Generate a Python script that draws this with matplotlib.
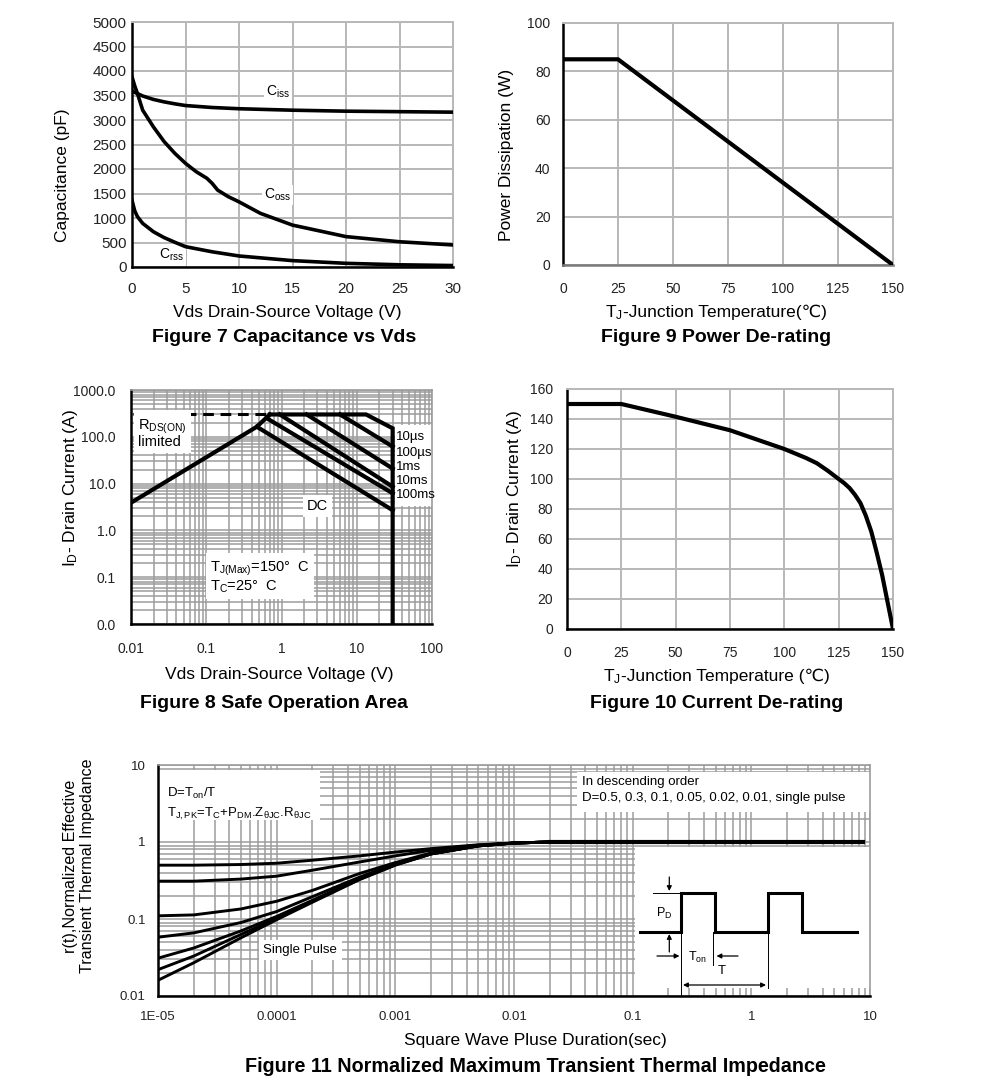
import matplotlib
matplotlib.use('Agg')
import matplotlib.pyplot as plt
from matplotlib.patches import Rectangle
from matplotlib.ticker import FixedLocator, FixedFormatter, LogLocator, NullFormatter

plt.rcParams['font.family'] = ['Liberation Sans', 'DejaVu Sans']
plt.rcParams['mathtext.fontset'] = 'custom'
plt.rcParams['mathtext.rm'] = 'Liberation Sans'
plt.rcParams['mathtext.it'] = 'Liberation Sans:italic'
plt.rcParams['mathtext.bf'] = 'Liberation Sans:bold'

# ---------------- data ----------------
# Figure 7
ciss_v = [0, 0.5, 1, 2, 3, 4, 5, 7.5, 10, 15, 20, 25, 30]
ciss_c = [3590, 3540, 3490, 3420, 3370, 3330, 3295, 3255, 3230, 3200, 3180, 3170, 3160]
coss_v = [0, 0.25, 0.5, 1, 2, 3, 4, 5, 6, 7, 7.5, 8, 9, 10, 12, 15, 20, 25, 30]
coss_c = [3880, 3700, 3545, 3200, 2860, 2560, 2320, 2115, 1945, 1810, 1705, 1570, 1435, 1330, 1095, 855, 620, 515, 450]
crss_v = [0, 0.25, 0.5, 1, 2, 3, 4, 5, 7.5, 10, 15, 20, 25, 30]
crss_c = [1360, 1150, 1030, 890, 720, 600, 505, 415, 310, 225, 130, 75, 45, 30]
cap_xticks = [0, 5, 10, 15, 20, 25, 30]
cap_yticks = [0, 500, 1000, 1500, 2000, 2500, 3000, 3500, 4000, 4500, 5000]

# Figure 9
pd_tj = [0, 25, 150]
pd_w = [85, 85, 0]
pd_xticks = [0, 25, 50, 75, 100, 125, 150]
pd_yticks = [0, 20, 40, 60, 80, 100]

# Figure 10
id_tj = [0, 25, 50, 75, 100, 105, 110, 115, 120, 125, 127.5, 130, 132.5, 135, 137.5, 140, 142.5, 145, 147.5, 150]
id_a = [150, 150, 141.5, 132.5, 120, 117, 114, 110.5, 105.5, 100, 97.3, 94, 89.5, 84, 75.5, 65, 51, 36, 18, 0]
id_xticks = [0, 25, 50, 75, 100, 125, 150]
id_yticks = [0, 20, 40, 60, 80, 100, 120, 140, 160]

# Figure 8 (SOA)
rds_v = [0.0105, 0.7]
rds_i = [300, 300]
rise_v = [0.01, 0.47, 0.7]
rise_i = [3.9, 164, 300]
us10_v = [0.7, 13.3, 30, 30]
us10_i = [300, 300, 152, 0.01]
us100_v = [6, 30]
us100_i = [300, 62]
ms1_v = [2.16, 30]
ms1_i = [300, 21]
ms10_v = [0.95, 30]
ms10_i = [300, 8.6]
ms100_v = [0.64, 30]
ms100_i = [248, 6.2]
dc_v = [0.47, 30]
dc_i = [164, 2.7]
soa_xticks = [0.01, 0.1, 1, 10, 100]
soa_xlabels = ['0.01', '0.1', '1', '10', '100']
soa_yticks = [0.01, 0.1, 1, 10, 100, 1000]
soa_ylabels = ['0.0', '0.1', '1.0', '10.0', '100.0', '1000.0']
soa_curve_names = ['10µs', '100µs', '1ms', '10ms', '100ms']

# Figure 11
zth_t = [1e-5, 2e-5, 5e-5, 1e-4, 2e-4, 5e-4, 1e-3, 2e-3, 5e-3, 1e-2, 2e-2]
zth_d05 = [0.50, 0.50, 0.51, 0.53, 0.58, 0.66, 0.74, 0.82, 0.92, 0.97, 1.0]
zth_d03 = [0.31, 0.31, 0.33, 0.36, 0.43, 0.55, 0.66, 0.78, 0.91, 0.97, 1.0]
zth_d01 = [0.11, 0.113, 0.135, 0.17, 0.235, 0.39, 0.54, 0.72, 0.90, 0.97, 1.0]
zth_d005 = [0.058, 0.066, 0.09, 0.125, 0.195, 0.35, 0.52, 0.71, 0.89, 0.97, 1.0]
zth_d002 = [0.031, 0.042, 0.07, 0.108, 0.175, 0.335, 0.51, 0.70, 0.89, 0.97, 1.0]
zth_d001 = [0.022, 0.033, 0.063, 0.102, 0.17, 0.33, 0.505, 0.70, 0.89, 0.97, 1.0]
zth_single = [0.016, 0.027, 0.057, 0.098, 0.165, 0.325, 0.50, 0.70, 0.89, 0.97, 1.0]
zth_flat_t = [0.02, 8.7]
zth_flat_r = [1.0, 1.0]
zth_xticks = [1e-5, 1e-4, 1e-3, 1e-2, 1e-1, 1, 10]
zth_xlabels = ['1E-05', '0.0001', '0.001', '0.01', '0.1', '1', '10']
zth_yticks = [0.01, 0.1, 1, 10]
zth_ylabels = ['0.01', '0.1', '1', '10']

# ---------------- layout helpers ----------------
W, H = 991, 1090
fig = plt.figure(figsize=(W / 100, H / 100), dpi=100)


def px_axes(l, t, r, b):
    return fig.add_axes([l / W, 1 - b / H, (r - l) / W, (b - t) / H])


def ftext(x, y, s, **kw):
    fig.text(x / W, 1 - y / H, s, ha=kw.pop('ha', 'center'), va=kw.pop('va', 'center'), **kw)


GRID = '#b8b8b8'
LGRID = '#9c9c9c'


def lin_style(ax, xt, yt, xpad, ypad, fs, bottom_col='k'):
    ax.set_xticks(xt)
    ax.set_yticks(yt)
    ax.grid(True, color=GRID, lw=1.4)
    ax.set_axisbelow(True)
    ax.tick_params(length=0, labelsize=fs, colors='#222222')
    ax.tick_params(axis='x', pad=xpad)
    ax.tick_params(axis='y', pad=ypad)
    for s in ['top', 'right']:
        ax.spines[s].set_color(GRID)
        ax.spines[s].set_linewidth(1.4)
    ax.spines['left'].set_color('k')
    ax.spines['left'].set_linewidth(1.8)
    ax.spines['bottom'].set_color(bottom_col)
    ax.spines['bottom'].set_linewidth(1.8)


LW = 3.0
TITLE_FS = 14
LABEL_FS = 12.5

# ---------------- Figure 7 ----------------
ax7 = px_axes(132, 22, 453, 267)
ax7.plot(ciss_v, ciss_c, color='k', lw=2.6, zorder=3)
ax7.plot(coss_v, coss_c, color='k', lw=2.6, zorder=3)
ax7.plot(crss_v, crss_c, color='k', lw=2.6, zorder=3)
ax7.set_xlim(0, 30)
ax7.set_ylim(0, 5000)
lin_style(ax7, cap_xticks, cap_yticks, 11, 4, 11)
bb = dict(facecolor='white', edgecolor='none', pad=1.5)
ax7.text(13.6, 3580, r'C$_{\mathrm{iss}}$', fontsize=10, ha='center', va='center', bbox=bb, zorder=2.5)
ax7.text(13.6, 1470, r'C$_{\mathrm{oss}}$', fontsize=10, ha='center', va='center', bbox=bb, zorder=2.5)
ax7.text(3.7, 240, r'C$_{\mathrm{rss}}$', fontsize=10, ha='center', va='center', bbox=bb, zorder=2.5)
ftext(63, 175, 'Capacitance (pF)', rotation=90, fontsize=LABEL_FS)
ftext(287, 312, 'Vds Drain-Source Voltage (V)', fontsize=LABEL_FS)
ftext(284, 338, 'Figure 7 Capacitance vs Vds', fontsize=TITLE_FS, fontweight='bold')

# ---------------- Figure 9 ----------------
ax9 = px_axes(563, 23, 893, 265)
ax9.plot(pd_tj, pd_w, color='k', lw=LW, zorder=3, solid_joinstyle='miter')
ax9.set_xlim(0, 150)
ax9.set_ylim(0, 100)
lin_style(ax9, pd_xticks, pd_yticks, 12, 9, 10, bottom_col='#7a7a7a')
ftext(506, 155, 'Power Dissipation (W)', rotation=90, fontsize=LABEL_FS)
ftext(623, 317, r'T$_{\mathrm{J}}$', fontsize=LABEL_FS, ha='right', va='baseline')
ftext(623, 317, '-Junction Temperature(℃)', fontsize=LABEL_FS, ha='left', va='baseline')
ftext(716, 338, 'Figure 9 Power De-rating', fontsize=TITLE_FS, fontweight='bold')

# ---------------- Figure 10 ----------------
ax10 = px_axes(567, 389, 893, 629)
ax10.plot(id_tj, id_a, color='k', lw=LW, zorder=3)
ax10.set_xlim(0, 150)
ax10.set_ylim(0, 160)
lin_style(ax10, id_xticks, id_yticks, 12, 10, 10)
ftext(515, 489, r'I$_{\mathrm{D}}$- Drain Current (A)', rotation=90, fontsize=LABEL_FS)
ftext(621, 681, r'T$_{\mathrm{J}}$', fontsize=LABEL_FS, ha='right', va='baseline')
ftext(621, 681, '-Junction Temperature (℃)', fontsize=LABEL_FS, ha='left', va='baseline')
ftext(717, 703, 'Figure 10 Current De-rating', fontsize=TITLE_FS, fontweight='bold')


def log_style(ax, fs, xpad, ypad):
    ax.set_xscale('log')
    ax.set_yscale('log')
    ax.xaxis.set_minor_locator(LogLocator(base=10, subs=range(2, 10), numticks=20))
    ax.yaxis.set_minor_locator(LogLocator(base=10, subs=range(2, 10), numticks=20))
    ax.xaxis.set_minor_formatter(NullFormatter())
    ax.yaxis.set_minor_formatter(NullFormatter())
    ax.grid(True, which='both', color=LGRID, lw=1.1)
    ax.set_axisbelow(True)
    ax.tick_params(which='both', length=0, labelsize=fs, colors='#222222')
    ax.tick_params(axis='x', pad=xpad)
    ax.tick_params(axis='y', pad=ypad)
    for s in ['top', 'right']:
        ax.spines[s].set_color(LGRID)
        ax.spines[s].set_linewidth(1.2)
    for s in ['left', 'bottom']:
        ax.spines[s].set_color('k')
        ax.spines[s].set_linewidth(1.8)


# ---------------- Figure 8 ----------------
ax8 = px_axes(131, 390, 432, 624)
log_style(ax8, 10, 13, 11)
ax8.set_xlim(0.01, 100)
ax8.set_ylim(0.01, 1000)
ax8.xaxis.set_major_locator(FixedLocator(soa_xticks))
ax8.xaxis.set_major_formatter(FixedFormatter(soa_xlabels))
ax8.yaxis.set_major_locator(FixedLocator(soa_yticks))
ax8.yaxis.set_major_formatter(FixedFormatter(soa_ylabels))
ax8.plot(rds_v, rds_i, color='k', lw=2.2, ls=(0, (3.5, 2.2)), zorder=3)
for v, i in [(rise_v, rise_i), (us10_v, us10_i), (us100_v, us100_i), (ms1_v, ms1_i),
             (ms10_v, ms10_i), (ms100_v, ms100_i), (dc_v, dc_i)]:
    ax8.plot(v, i, color='k', lw=LW, zorder=3, solid_joinstyle='miter')
ax8.text(0.0125, 120, r'R$_{\mathrm{DS(ON)}}$' + '\nlimited', fontsize=10.5, ha='left', va='center',
         bbox=dict(facecolor='white', edgecolor='none', pad=3), zorder=4, linespacing=0.95)
# white area behind the pulse-width labels
ax8.add_patch(Rectangle((0.878, 0.505), 0.122, 0.345, transform=ax8.transAxes,
                        facecolor='white', edgecolor='none', zorder=2))
for txt, y in zip(soa_curve_names, [100, 45, 22.6, 11.1, 5.7]):
    ax8.text(33, y, txt, fontsize=9.5, ha='left', va='center', zorder=4, clip_on=False)
ax8.text(3.0, 3.3, 'DC', fontsize=10.5, ha='center', va='center',
         bbox=dict(facecolor='white', edgecolor='none', pad=3), zorder=4)
ax8.text(0.113, 0.1, r'T$_{\mathrm{J(Max)}}$=150°  C' + '\n' + r'T$_{\mathrm{C}}$=25°  C',
         fontsize=10.5, ha='left', va='center', linespacing=1.1,
         bbox=dict(facecolor='white', edgecolor='none', pad=3), zorder=4)
ftext(70, 488, r'I$_{\mathrm{D}}$- Drain Current (A)', rotation=90, fontsize=LABEL_FS)
ftext(279, 675, 'Vds Drain-Source Voltage (V)', fontsize=LABEL_FS)
ftext(274, 703, 'Figure 8 Safe Operation Area', fontsize=TITLE_FS, fontweight='bold')

# ---------------- Figure 11 ----------------
ax11 = px_axes(158, 765, 870, 996)
log_style(ax11, 9.5, 11, 9)
ax11.set_xlim(1e-5, 10)
ax11.set_ylim(0.01, 10)
ax11.xaxis.set_major_locator(FixedLocator(zth_xticks))
ax11.xaxis.set_major_formatter(FixedFormatter(zth_xlabels))
ax11.yaxis.set_major_locator(FixedLocator(zth_yticks))
ax11.yaxis.set_major_formatter(FixedFormatter(zth_ylabels))
for r in [zth_d05, zth_d03, zth_d01, zth_d005, zth_d002, zth_d001, zth_single]:
    ax11.plot(zth_t, r, color='k', lw=2.1, zorder=3)
ax11.plot(zth_flat_t, zth_flat_r, color='k', lw=3.0, zorder=3)
# white boxes
ax11.add_patch(Rectangle((0.67, 0.035), 0.33, 0.61, transform=ax11.transAxes,
                         facecolor='white', edgecolor='none', zorder=2))
ax11.add_patch(Rectangle((0.588, 0.797), 0.412, 0.173, transform=ax11.transAxes,
                         facecolor='white', edgecolor='none', zorder=2))
ax11.add_patch(Rectangle((0.0, 0.762), 0.2275, 0.216, transform=ax11.transAxes,
                         facecolor='white', edgecolor='none', zorder=2))
ax11.text(0.595, 0.925, 'In descending order', transform=ax11.transAxes, fontsize=9.5,
          ha='left', va='center', zorder=4)
ax11.text(0.595, 0.857, 'D=0.5, 0.3, 0.1, 0.05, 0.02, 0.01, single pulse', transform=ax11.transAxes,
          fontsize=9.5, ha='left', va='center', zorder=4)
ax11.text(0.013, 0.875, r'D=T$_{\mathrm{on}}$/T', transform=ax11.transAxes, fontsize=9.5,
          ha='left', va='center', zorder=4)
ax11.text(0.013, 0.79, r'T$_{\mathrm{J,PK}}$=T$_{\mathrm{C}}$+P$_{\mathrm{DM}}$.Z$_{\mathrm{θJC}}$.R$_{\mathrm{θJC}}$',
          transform=ax11.transAxes, fontsize=9.5, ha='left', va='center', zorder=4)
ax11.text(0.2, 0.2, 'Single Pulse', transform=ax11.transAxes, fontsize=9.5, ha='center', va='center',
          bbox=dict(facecolor='white', edgecolor='none', pad=3), zorder=4)

# inset pulse diagram (schematic, in pixel units)
axi = px_axes(635, 847, 870, 996)
axi.set_xlim(635, 870)
axi.set_ylim(996, 847)
axi.axis('off')
pulse_x = [640, 680.7, 680.7, 715, 715, 767.7, 767.7, 801.7, 801.7, 856.7]
pulse_y = [931.7, 931.7, 892.7, 892.7, 931.7, 931.7, 892.7, 892.7, 931.7, 931.7]
axi.plot(pulse_x, pulse_y, color='k', lw=2.2, solid_joinstyle='miter')
thin = dict(color='k', lw=0.7)
axi.plot([653, 680.7], [892.7, 892.7], **thin)
axi.plot([680.7, 680.7], [931.7, 996], **thin)
axi.plot([712.7, 712.7], [931.7, 965], **thin)
axi.plot([767.7, 767.7], [931.7, 988], **thin)
ap = dict(arrowstyle='-|>', lw=0.9, color='k', mutation_scale=7, shrinkA=0, shrinkB=0)
axi.annotate('', xy=(669.3, 891), xytext=(669.3, 877), arrowprops=ap)
axi.annotate('', xy=(669.3, 934), xytext=(669.3, 952), arrowprops=ap)
axi.annotate('', xy=(679.5, 956), xytext=(657, 956), arrowprops=ap)
axi.annotate('', xy=(716.5, 956), xytext=(738, 956), arrowprops=ap)
axi.annotate('', xy=(683, 985), xytext=(766, 985),
             arrowprops=dict(arrowstyle='<|-|>', lw=0.9, color='k', mutation_scale=7, shrinkA=0, shrinkB=0))
axi.text(664, 913, r'P$_{\mathrm{D}}$', fontsize=9, ha='center', va='center')
axi.text(697, 957, r'T$_{\mathrm{on}}$', fontsize=9, ha='center', va='center')
axi.text(722, 971, 'T', fontsize=9.5, ha='center', va='center')

ftext(79, 866, 'r(t),Normalized Effective\nTransient Thermal Impedance', rotation=90,
      fontsize=11.6, multialignment='center', linespacing=1.15)
ftext(535, 1041, 'Square Wave Pluse Duration(sec)', fontsize=LABEL_FS)
ftext(535, 1066, 'Figure 11 Normalized Maximum Transient Thermal Impedance', fontsize=14.2,
      fontweight='bold')

fig.savefig('out.png', dpi=100, facecolor='white')
